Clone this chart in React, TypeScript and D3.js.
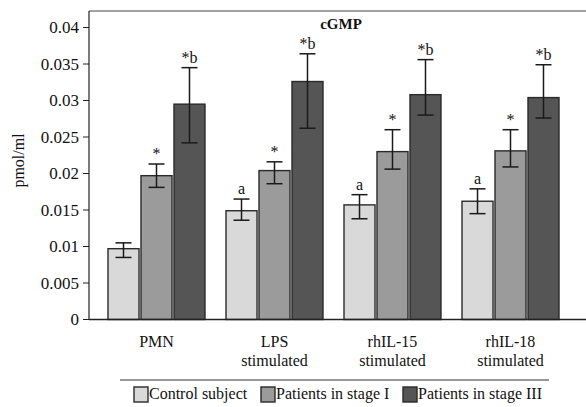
import React from "react";
import * as d3 from "d3";

const categories = ["PMN", "LPS stimulated", "rhIL-15 stimulated", "rhIL-18 stimulated"];
const categoryLines = [["PMN"], ["LPS", "stimulated"], ["rhIL-15", "stimulated"], ["rhIL-18", "stimulated"]];
const seriesNames = ["Control subject", "Patients in stage I", "Patients in stage III"];
const seriesColors = ["#d9d9d9", "#9b9b9b", "#555555"];

const controlValues = [0.0097, 0.0149, 0.0157, 0.0162];
const stage1Values = [0.0197, 0.0204, 0.0230, 0.0231];
const stage3Values = [0.0295, 0.0326, 0.0308, 0.0304];

const controlErrUp = [0.0008, 0.0016, 0.0014, 0.0017];
const controlErrDown = [0.0012, 0.0013, 0.0019, 0.0017];
const stage1ErrUp = [0.0016, 0.0012, 0.0030, 0.0029];
const stage1ErrDown = [0.0016, 0.0018, 0.0024, 0.0022];
const stage3ErrUp = [0.0050, 0.0038, 0.0048, 0.0045];
const stage3ErrDown = [0.0053, 0.0064, 0.0028, 0.0028];

const controlMarks = ["", "a", "a", "a"];
const stage1Marks = ["*", "*", "*", "*"];
const stage3Marks = ["*b", "*b", "*b", "*b"];

const yTicks = [0, 0.005, 0.01, 0.015, 0.02, 0.025, 0.03, 0.035, 0.04];
const yTickLabels = ["0", "0.005", "0.01", "0.015", "0.02", "0.025", "0.03", "0.035", "0.04"];

const values = [controlValues, stage1Values, stage3Values];
const errUp = [controlErrUp, stage1ErrUp, stage3ErrUp];
const errDown = [controlErrDown, stage1ErrDown, stage3ErrDown];
const marks = [controlMarks, stage1Marks, stage3Marks];

const FONT = "'Liberation Serif', 'Times New Roman', serif";

export default function App() {
  const W = 586;
  const H = 407;
  const axisX = 89;
  const frameTop = 11;
  const y = d3.scaleLinear().domain([0, 0.04]).range([319.5, 27.5]);
  const x0 = d3.scaleBand<string>().domain(categories).range([108, 559]).paddingInner(0.178).paddingOuter(0);
  const x1 = d3
    .scaleBand<number>()
    .domain([0, 1, 2])
    .range([0, x0.bandwidth()])
    .paddingInner(0.06)
    .paddingOuter(0);
  const capW = 16;
  const legendX = [134, 261, 403];

  return (
    <svg
      width={W}
      height={H}
      style={{ position: "absolute", left: 0, top: 0 }}
      fontFamily={FONT}
    >
      <rect x={0} y={0} width={W} height={H} fill="#fff" />
      {/* frame */}
      <line x1={axisX} y1={frameTop} x2={W} y2={frameTop} stroke="#444" strokeWidth={1} />
      <line x1={axisX} y1={frameTop} x2={axisX} y2={y(0)} stroke="#222" strokeWidth={1.2} />

      {/* title */}
      <text x={341} y={29} textAnchor="middle" fontWeight="bold" fontSize={15} fill="#111">
        cGMP
      </text>

      {/* y ticks */}
      {yTicks.map((t, i) => (
        <g key={i}>
          <line x1={axisX - 6} x2={axisX} y1={y(t)} y2={y(t)} stroke="#222" strokeWidth={1} />
          <text x={axisX - 10} y={y(t)} dy="0.33em" textAnchor="end" fontSize={17} fill="#111">
            {yTickLabels[i]}
          </text>
        </g>
      ))}

      <text
        transform={`translate(24, ${y(0.02) - 13}) rotate(-90)`}
        textAnchor="middle"
        fontSize={16}
        fill="#111"
      >
        pmol/ml
      </text>

      {/* bars */}
      {categories.map((c, ci) => (
        <g key={c} transform={`translate(${x0(c)},0)`}>
          {values.map((ser, si) => {
            const v = ser[ci];
            const bx = x1(si)!;
            const bw = x1.bandwidth();
            const cx = bx + bw / 2;
            const top = y(v + errUp[si][ci]);
            const bot = y(v - errDown[si][ci]);
            return (
              <g key={si}>
                <rect
                  x={bx}
                  y={y(v)}
                  width={bw}
                  height={y(0) - y(v)}
                  fill={seriesColors[si]}
                  stroke="#2a2a2a"
                  strokeWidth={1.4}
                />
                <line x1={cx} x2={cx} y1={top} y2={bot} stroke="#1a1a1a" strokeWidth={1.5} />
                <line x1={cx - capW / 2} x2={cx + capW / 2} y1={top} y2={top} stroke="#1a1a1a" strokeWidth={1.5} />
                <line x1={cx - capW / 2} x2={cx + capW / 2} y1={bot} y2={bot} stroke="#1a1a1a" strokeWidth={1.5} />
                {marks[si][ci] && (
                  <text x={cx} y={top - 5} textAnchor="middle" fontSize={16} fill="#111">
                    {marks[si][ci]}
                  </text>
                )}
              </g>
            );
          })}
        </g>
      ))}

      {/* x axis line */}
      <line x1={axisX} y1={y(0)} x2={W} y2={y(0)} stroke="#222" strokeWidth={1.4} />

      {/* category labels */}
      {categories.map((c, ci) => (
        <text key={c} textAnchor="middle" fontSize={16} fill="#111">
          {categoryLines[ci].map((ln, li) => (
            <tspan key={li} x={x0(c)! + x0.bandwidth() / 2} y={347 + li * 19}>
              {ln}
            </tspan>
          ))}
        </text>
      ))}

      {/* legend */}
      <line x1={120} y1={380} x2={549} y2={380} stroke="#333" strokeWidth={1.2} />
      {seriesNames.map((n, i) => (
        <g key={n}>
          <rect x={legendX[i]} y={387} width={14} height={15} fill={seriesColors[i]} stroke="#2a2a2a" strokeWidth={1.4} />
          <text x={legendX[i] + 15} y={399} fontSize={16} fill="#111">
            {n}
          </text>
        </g>
      ))}
    </svg>
  );
}
